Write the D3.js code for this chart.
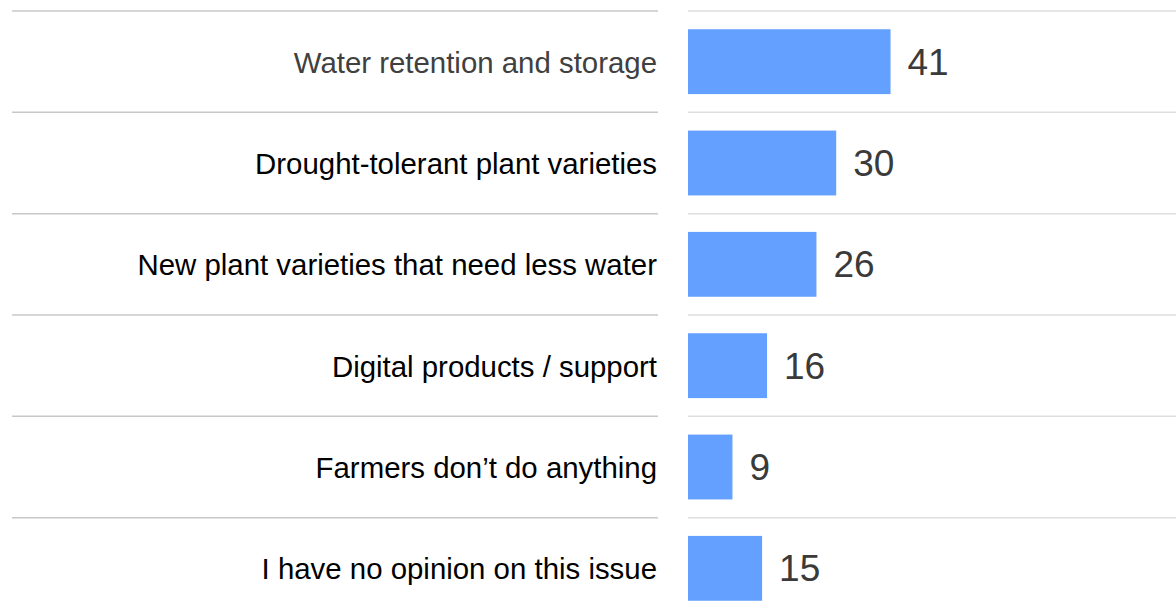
<!DOCTYPE html>
<html>
<head>
<meta charset="utf-8">
<script src="https://cdn.jsdelivr.net/npm/d3@7"></script>
<style>
  html, body { margin: 0; padding: 0; background: #ffffff; }
  svg { display: block; }
</style>
</head>
<body>
<svg id="chart" width="1176" height="615"></svg>
<script>
// Survey answers: measures against drought (share of respondents, %)
const categories = [
  "Water retention and storage",
  "Drought-tolerant plant varieties",
  "New plant varieties that need less water",
  "Digital products / support",
  "Farmers don\u2019t do anything",
  "I have no opinion on this issue"
];
const values = [41, 30, 26, 16, 9, 15];
const labelColors = ["#404040", "#000000", "#000000", "#000000", "#000000", "#000000"];

const svg = d3.select("#chart");
const W = 1176;

const rows = categories.map((c, i) => ({ cat: c, value: values[i], color: labelColors[i] }));

const y = d3.scaleBand()
  .domain(categories)
  .range([11, 619])
  .paddingInner(0.36)
  .paddingOuter(0.18);

const x = d3.scaleLinear()
  .domain([0, 100])
  .range([688, 1182]);

const step = y.step();
const rowTop = d => y(d) - step * y.paddingOuter();
const mid = d => y(d) + y.bandwidth() / 2;

// row separators: label side and bar side
svg.append("g").selectAll("line")
  .data(categories)
  .join("line")
  .attr("x1", 12).attr("x2", 658)
  .attr("y1", d => rowTop(d)).attr("y2", d => rowTop(d))
  .attr("stroke", "#c8c8c8").attr("stroke-width", 1.5);

svg.append("g").selectAll("line")
  .data(categories)
  .join("line")
  .attr("x1", x(0)).attr("x2", W)
  .attr("y1", d => rowTop(d)).attr("y2", d => rowTop(d))
  .attr("stroke", "#dedede").attr("stroke-width", 1.5);

// bars
svg.append("g").selectAll("rect")
  .data(rows)
  .join("rect")
  .attr("x", x(0))
  .attr("y", d => y(d.cat))
  .attr("width", d => x(d.value) - x(0))
  .attr("height", y.bandwidth())
  .attr("fill", "#64a0ff");

// category labels
svg.append("g").selectAll("text")
  .data(rows)
  .join("text")
  .attr("x", 657)
  .attr("y", d => mid(d.cat) + 11)
  .attr("text-anchor", "end")
  .attr("font-family", "'Liberation Sans', Arial, sans-serif")
  .attr("font-size", 29.4)
  .attr("fill", d => d.color)
  .text(d => d.cat);

// value labels
svg.append("g").selectAll("text")
  .data(rows)
  .join("text")
  .attr("x", d => x(d.value) + 17)
  .attr("y", d => mid(d.cat) + 13)
  .attr("font-family", "'Liberation Sans', Arial, sans-serif")
  .attr("font-size", 37)
  .attr("fill", "#3a3a3a")
  .text(d => d.value);
</script>
</body>
</html>
